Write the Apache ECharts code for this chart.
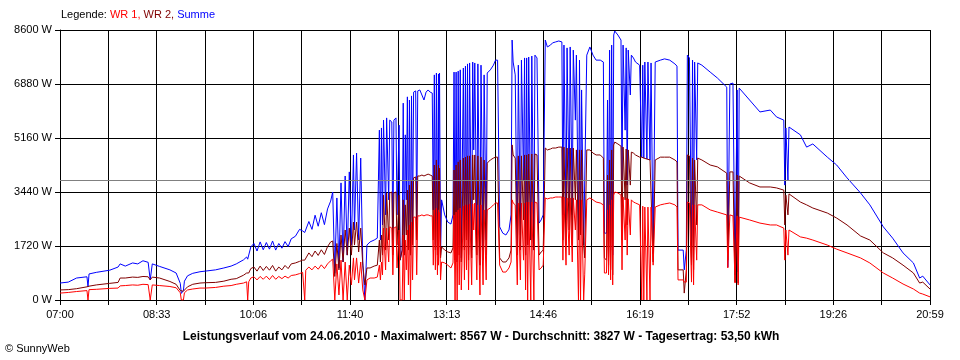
<!DOCTYPE html>
<html>
<head>
<meta charset="utf-8">
<script src="https://cdn.jsdelivr.net/npm/echarts@6/dist/echarts.min.js"></script>
<style>
html,body{margin:0;padding:0;background:#fff;}
#chart{width:960px;height:360px;}
</style>
</head>
<body>
<div id="chart"></div>
<script>
// minutes after 07:00
const minutes = [
0,8,16,26,27,28,35,48,56,58,
63,70,75,80,85,87,89,96,106,112,
116,117,119,120,123,128,135,140,150,158,
165,170,177,180,181,182,184,187,190,193,
196,199,202,205,208,211,214,217,220,223,
227,231,234,236,237,240,243,246,249,252,
255,258,261,263,265,266,267,269,271,273,
275,277,279,281,283,284,286,288,290,292,
294,296,299,303,306,308,309,310,311,312,
314,315,317,318,320,321,322,324,325,327,
328,330,331,332,333,334,335,336,337,338,
339,340,341,343,344,345,347,349,351,353,
355,357,359,360,361,362,363,364,365,365,
366,367,368,371,374,377,379,380,381,382,
383,384,385,386,387,389,390,391,392,393,
394,395,397,398,399,400,402,403,405,406,
408,409,411,412,415,418,420,422,424,427,
430,433,435,436,437,439,441,442,444,445,
447,448,449,450,451,452,454,455,457,458,
460,462,464,466,468,470,473,475,478,481,
484,485,486,488,489,491,492,494,495,497,
498,500,501,502,503,505,506,508,511,514,
517,521,524,525,527,528,529,530,531,532,
533,534,535,538,541,542,543,545,546,547,
548,550,551,553,555,559,561,562,563,564,
566,567,569,570,572,574,579,583,588,593,
595,596,601,602,604,605,607,609,610,611,
612,614,615,619,627,634,643,644,646,649,
651,653,654,655,656,665,675,685,691,698,
699,700,702,703,714,720,726,740,749,759,
772,781,794,803,813,823,829,832,839
];
const wr1 = [
220,240,270,300,0,330,340,370,380,450,
460,480,470,500,490,0,480,460,430,390,
230,0,0,230,320,350,380,380,400,440,
460,500,540,580,0,580,700,740,640,750,
660,760,650,780,660,750,680,760,700,780,
800,840,880,0,950,1050,960,1080,980,1120,
1000,1150,1250,1300,0,0,1150,160,1270,0,
1210,0,1110,480,1340,640,1340,540,1210,320,
0,640,700,700,730,1110,640,1210,800,2290,
960,2290,1210,2330,2290,800,2290,2330,1020,2230,
0,0,2070,0,1910,960,2230,480,2390,0,
2480,640,2640,2640,800,2680,2680,2710,2680,2710,
2710,2680,2680,1110,2870,960,2930,800,2870,1110,
2790,640,1210,1180,1110,1020,1180,2710,0,2800,
0,2870,480,2930,320,2990,640,3030,960,3030,
320,3060,480,3060,2230,3090,640,3030,160,3030,
480,2870,640,2870,2930,3030,3090,3090,1110,890,
890,1020,1210,3190,3090,3030,480,3090,640,3090,
1270,3090,320,3120,0,3120,0,3120,0,3120,
3090,960,1020,1110,3250,3220,3250,3250,3280,3280,
3280,1270,3280,1110,3250,1430,3250,1210,3250,2230,
3190,0,3190,0,3190,0,800,3190,3250,3190,
3120,3090,3030,860,860,2870,800,3030,640,3190,
480,3340,3440,3410,3340,960,3280,1910,3250,1430,
3220,2070,3190,3120,3090,3030,0,2990,0,2960,
0,2960,0,2960,1110,2960,3030,3060,3090,3030,
2960,640,640,570,570,3120,3090,570,3030,480,
3030,1270,3030,3030,2870,2800,2710,1020,2710,2680,
540,2680,480,2640,2610,2550,2450,2390,2390,2290,
1270,2230,1430,2230,2010,1970,1910,1750,1620,1500,
1340,1180,860,700,510,350,220,190,100
];
const wr2 = [
320,330,360,420,420,440,480,530,560,700,
700,730,720,750,740,640,730,700,590,500,
300,280,280,300,420,500,540,550,560,600,
660,680,790,860,860,860,1000,1050,920,1080,
940,1070,950,1100,920,1050,960,1100,1000,1150,
1180,1230,1270,1270,1300,1500,1380,1560,1420,1600,
1450,1700,1850,1880,750,730,1800,960,2070,1210,
2230,1430,2290,1430,2480,1750,2480,1530,2290,1110,
480,1020,1020,1080,1110,1910,1210,2070,1430,3340,
1590,3410,1910,3410,3440,1430,3410,3440,1750,3340,
1270,1590,3190,1430,3030,2070,3500,1590,3660,1430,
3820,1750,3890,3920,1910,3950,3950,3980,3950,3980,
4010,3980,3950,1910,4300,1590,4460,1430,4300,1750,
4200,1340,1690,1590,1530,1500,1660,4140,1270,4300,
1210,4400,1430,4460,1210,4520,1590,4550,1910,4590,
1270,4590,1340,4620,3190,4620,1430,4590,1110,4550,
1270,4460,1430,4360,4460,4520,4550,4550,1340,1210,
1210,1340,1590,4940,4620,4520,1430,4590,1590,4590,
2550,4620,1430,4620,1750,4650,1910,4650,1590,4650,
4620,1430,1530,1590,4840,4780,4810,4840,4840,4870,
4870,1910,4870,1750,4840,2230,4840,1750,4840,3190,
4780,1910,4780,2070,4780,1750,1340,4780,4780,4680,
4620,4620,4520,1340,1270,3980,1110,4460,960,4780,
800,4940,5030,4970,4900,1910,4870,3190,4810,2390,
4780,3660,4710,4680,4620,4550,4550,4520,4520,4490,
4490,4460,4460,4460,1210,4460,4550,4550,4550,4460,
4400,960,960,220,960,4620,4590,1110,4520,960,
4460,2390,4520,4460,4300,4240,4040,1270,4080,4080,
570,3980,540,3950,3950,3730,3600,3600,3570,3500,
2390,3340,2710,3380,3120,3030,2930,2770,2610,2390,
2040,1910,1500,1340,1110,860,540,570,350
];
const summe = [
540,570,700,740,420,830,880,950,1050,1150,
1080,1180,1150,1250,1200,640,1150,1070,960,860,
530,210,300,600,770,850,900,920,960,1020,
1080,1150,1280,1370,1300,1270,1690,1800,1560,1850,
1600,1830,1620,1880,1590,1800,1650,1860,1700,1950,
2030,2250,2200,2150,2150,2500,2250,2700,2350,2780,
2400,2900,3150,3440,850,860,3250,1020,3730,1210,
3950,1430,4080,1750,4620,2230,4680,1910,4520,1210,
0,1750,1850,1910,1970,5410,1910,5480,2390,5730,
2710,5800,3190,5730,5670,1910,5730,5800,2710,5570,
1270,1590,6270,1430,5260,3190,6470,1910,6370,1430,
6500,2230,6620,6660,2550,6660,6690,6530,6370,6620,
6690,6620,6590,2870,7170,1750,7230,1590,7200,2390,
7230,1430,3190,2710,2480,2420,2710,7260,1270,7260,
1210,7290,1750,7330,1340,7390,1910,7450,2550,7520,
1430,7550,1590,7580,4780,7550,2070,7520,1110,7480,
1590,7170,1910,7230,7330,7480,7640,7640,2330,2130,
2070,2230,2710,8280,7580,7170,1590,7480,2070,7640,
3820,7710,1430,7710,1750,7740,1910,7770,1590,7800,
7710,2450,2550,2710,8280,8060,8120,8190,8220,8250,
8220,2710,8120,2550,8030,3190,8060,2710,7960,5730,
7800,1910,7640,2070,6690,1750,1690,7800,8060,7800,
7640,7640,7580,2130,2130,6370,1910,7960,1590,8120,
1430,8440,8567,8440,8280,3820,8120,5410,8030,3660,
7960,6530,7800,7710,7580,7480,4550,7480,4520,7580,
4490,7580,4460,7550,1470,7580,7640,7680,7640,7520,
7450,1590,1590,960,1590,7800,7710,1690,7640,1590,
7580,4460,7550,7480,7260,7070,6780,1050,6880,6910,
800,6690,890,6750,6750,6370,5990,6050,5830,5730,
3660,5480,3820,5510,5260,4870,4970,4550,4300,3890,
3410,3030,2330,1970,1500,1180,700,760,480
];
const timeLabels = ['07:00','08:33','10:06','11:40','13:13','14:46','16:19','17:52','19:26','20:59'];
const yTickStep = 1720;
const yMax = 8600;
const totalMinutes = 839;
const averageW = 3827;
const footerText = 'Leistungsverlauf vom 24.06.2010 - Maximalwert: 8567 W - Durchschnitt: 3827 W - Tagesertrag: 53,50 kWh';

const pair = (vals) => minutes.map((m, i) => [m, vals[i]]);
const FONT = '"Liberation Sans", Arial, sans-serif';
const step = totalMinutes / 18;

const chart = echarts.init(document.getElementById('chart'), null, {renderer: 'canvas'});
chart.setOption({
  animation: false,
  backgroundColor: '#ffffff',
  textStyle: {fontFamily: FONT},
  grid: {left: 60, right: 30, top: 30, bottom: 60, containLabel: false, outerBoundsMode: 'none'},
  xAxis: {
    type: 'value', min: 0, max: totalMinutes, interval: step,
    axisLine: {show: true, lineStyle: {color: '#000', width: 1}},
    axisTick: {show: true, length: 5, lineStyle: {color: '#000'}},
    splitLine: {show: true, lineStyle: {color: '#000', width: 1}},
    axisLabel: {
      margin: 9, color: '#000', fontSize: 11, fontFamily: FONT,
      showMinLabel: true, showMaxLabel: true, hideOverlap: false,
      formatter: (v) => { const i = Math.round(v / step); return i % 2 === 0 ? (timeLabels[i / 2] || '') : ''; }
    }
  },
  yAxis: {
    type: 'value', min: 0, max: yMax, interval: yTickStep,
    axisLine: {show: true, lineStyle: {color: '#000', width: 1}},
    axisTick: {show: true, length: 5, lineStyle: {color: '#000'}},
    splitLine: {show: true, lineStyle: {color: '#000', width: 1}},
    axisLabel: {margin: 8, color: '#000', fontSize: 11, fontFamily: FONT, formatter: (v) => String(Math.round(v)) + ' W'}
  },
  graphic: [
    {type: 'text', left: 61, top: 9, style: {
      text: '{k|Legende: }{a|WR 1, }{b|WR 2, }{c|Summe}',
      rich: {
        k: {fill: '#000', fontSize: 11, fontFamily: FONT},
        a: {fill: '#ff0000', fontSize: 11, fontFamily: FONT},
        b: {fill: '#800000', fontSize: 11, fontFamily: FONT},
        c: {fill: '#0000ff', fontSize: 11, fontFamily: FONT}
      }
    }},
    {type: 'text', x: 481, y: 337, style: {text: footerText, fill: '#000', fontSize: 12, fontWeight: 'bold', fontFamily: FONT, align: 'center', verticalAlign: 'middle'}},
    {type: 'text', x: 5, y: 349, style: {text: '\u00A9 SunnyWeb', fill: '#000', fontSize: 11, fontFamily: FONT, align: 'left', verticalAlign: 'middle'}}
  ],
  series: [
    {name: 'Summe', type: 'line', data: pair(summe), showSymbol: false, symbol: 'none', z: 2,
     lineStyle: {color: '#0000ff', width: 1}, itemStyle: {color: '#0000ff'},
     markLine: {silent: true, symbol: 'none', label: {show: false}, lineStyle: {color: '#808080', type: 'solid', width: 1},
       data: [{yAxis: averageW}]}},
    {name: 'WR 2', type: 'line', data: pair(wr2), showSymbol: false, symbol: 'none', z: 3,
     lineStyle: {color: '#800000', width: 1}, itemStyle: {color: '#800000'}},
    {name: 'WR 1', type: 'line', data: pair(wr1), showSymbol: false, symbol: 'none', z: 4,
     lineStyle: {color: '#ff0000', width: 1}, itemStyle: {color: '#ff0000'}}
  ]
});
</script>
</body>
</html>
